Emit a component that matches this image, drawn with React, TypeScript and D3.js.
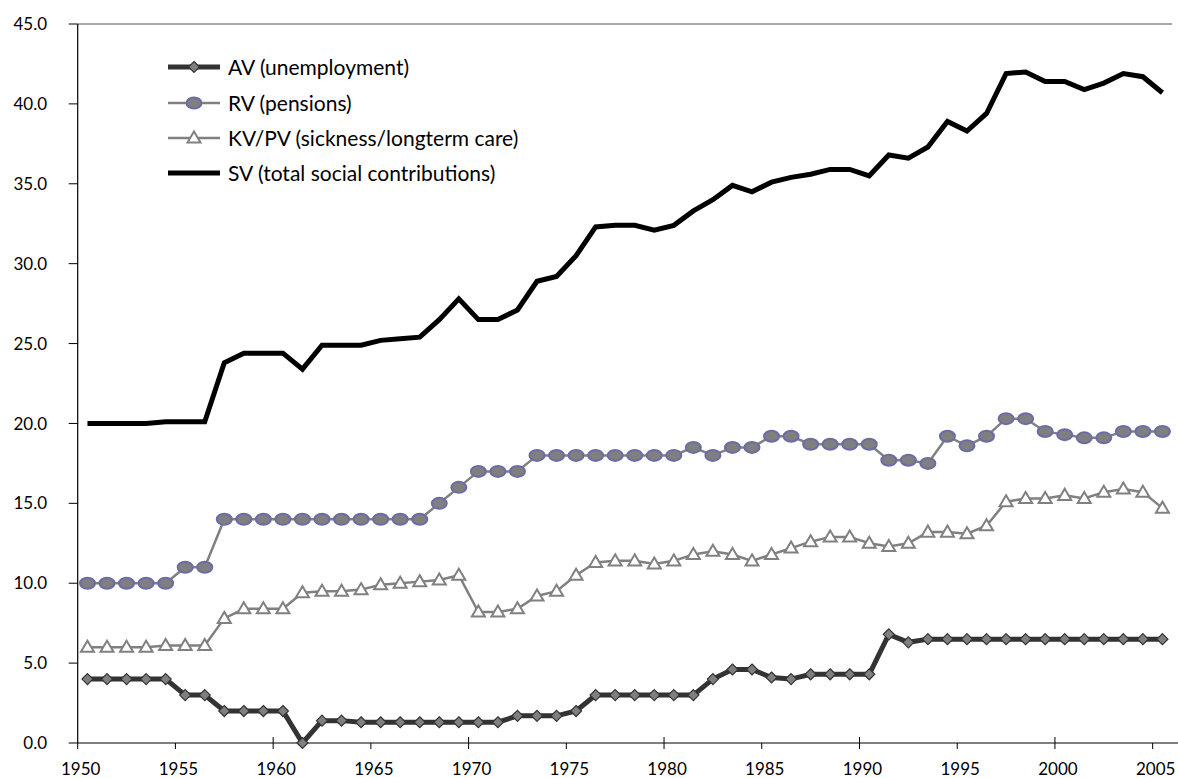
import { useEffect } from 'react';
import * as d3 from 'd3';

// categories
const years: number[] = d3.range(1950, 2006);

// contribution rates in % of gross wage
const av = [
  4.0, 4.0, 4.0, 4.0, 4.0, 3.0, 3.0, 2.0, 2.0, 2.0,
  2.0, 0.0, 1.4, 1.4, 1.3, 1.3, 1.3, 1.3, 1.3, 1.3,
  1.3, 1.3, 1.7, 1.7, 1.7, 2.0, 3.0, 3.0, 3.0, 3.0,
  3.0, 3.0, 4.0, 4.6, 4.6, 4.1, 4.0, 4.3, 4.3, 4.3,
  4.3, 6.8, 6.3, 6.5, 6.5, 6.5, 6.5, 6.5, 6.5, 6.5,
  6.5, 6.5, 6.5, 6.5, 6.5, 6.5,
];
const rv = [
  10.0, 10.0, 10.0, 10.0, 10.0, 11.0, 11.0, 14.0, 14.0, 14.0,
  14.0, 14.0, 14.0, 14.0, 14.0, 14.0, 14.0, 14.0, 15.0, 16.0,
  17.0, 17.0, 17.0, 18.0, 18.0, 18.0, 18.0, 18.0, 18.0, 18.0,
  18.0, 18.5, 18.0, 18.5, 18.5, 19.2, 19.2, 18.7, 18.7, 18.7,
  18.7, 17.7, 17.7, 17.5, 19.2, 18.6, 19.2, 20.3, 20.3, 19.5,
  19.3, 19.1, 19.1, 19.5, 19.5, 19.5,
];
const kv = [
  6.0, 6.0, 6.0, 6.0, 6.1, 6.1, 6.1, 7.8, 8.4, 8.4,
  8.4, 9.4, 9.5, 9.5, 9.6, 9.9, 10.0, 10.1, 10.2, 10.5,
  8.2, 8.2, 8.4, 9.2, 9.5, 10.5, 11.3, 11.4, 11.4, 11.2,
  11.4, 11.8, 12.0, 11.8, 11.4, 11.8, 12.2, 12.6, 12.9, 12.9,
  12.5, 12.3, 12.5, 13.2, 13.2, 13.1, 13.6, 15.1, 15.3, 15.3,
  15.5, 15.3, 15.7, 15.9, 15.7, 14.7,
];
const sv = [
  20.0, 20.0, 20.0, 20.0, 20.1, 20.1, 20.1, 23.8, 24.4, 24.4,
  24.4, 23.4, 24.9, 24.9, 24.9, 25.2, 25.3, 25.4, 26.5, 27.8,
  26.5, 26.5, 27.1, 28.9, 29.2, 30.5, 32.3, 32.4, 32.4, 32.1,
  32.4, 33.3, 34.0, 34.9, 34.5, 35.1, 35.4, 35.6, 35.9, 35.9,
  35.5, 36.8, 36.6, 37.3, 38.9, 38.3, 39.4, 41.9, 42.0, 41.4,
  41.4, 40.9, 41.3, 41.9, 41.7, 40.7,
];

const yTicks = [0, 5, 10, 15, 20, 25, 30, 35, 40, 45];
const legendLabels = [
  'AV (unemployment)',
  'RV (pensions)',
  'KV/PV (sickness/longterm care)',
  'SV (total social contributions)',
];

const W = 1178;
const H = 778;
const FONT = 'Lato, "Open Sans", sans-serif';

function Marker({ kind, cx, cy }: { kind: string; cx: number; cy: number }) {
  if (kind === 'diamond') {
    const s = 5.5;
    return (
      <path
        d={`M${cx},${cy - s}L${cx + s},${cy}L${cx},${cy + s}L${cx - s},${cy}Z`}
        fill="#7f7f7f"
        stroke="#333"
        strokeWidth={1.2}
      />
    );
  }
  if (kind === 'ellipse') {
    return <ellipse cx={cx} cy={cy} rx={7.5} ry={5.5} fill="#7f7f7f" stroke="#6b6ba8" strokeWidth={2} />;
  }
  if (kind === 'triangle') {
    const s = 6.5;
    return (
      <path
        d={`M${cx},${cy - s}L${cx + s},${cy + s * 0.7}L${cx - s},${cy + s * 0.7}Z`}
        fill="#fff"
        stroke="#808080"
        strokeWidth={2}
      />
    );
  }
  return null;
}

export default function App() {
  useEffect(() => {
    document.body.style.margin = '0';
  }, []);

  const x = d3.scaleBand<number>().domain(years).range([77.7, 1172.2]).padding(0);
  const bw = x.bandwidth();
  const px = (yr: number) => (x(yr) as number) + bw / 2;
  const y = d3.scaleLinear().domain([0, 45]).range([743, 24]);

  const line = d3
    .line<number>()
    .x((_, i) => px(years[i]))
    .y((d) => y(d));

  const series = [
    { values: av, stroke: '#333333', width: 5, marker: 'diamond' },
    { values: rv, stroke: '#808080', width: 2.5, marker: 'ellipse' },
    { values: kv, stroke: '#808080', width: 2.5, marker: 'triangle' },
    { values: sv, stroke: '#000000', width: 5, marker: 'none' },
  ];

  const x0 = 77.7;
  const xTickYears = years.filter((yr) => (yr - 1950) % 5 === 0);
  const legendY = [67, 103, 138, 173];

  return (
    <svg width={W} height={H} style={{ display: 'block', background: '#fff' }} fontFamily={FONT}>
      {/* plot frame top */}
      <line x1={x0} x2={1172} y1={y(45)} y2={y(45)} stroke="#555" strokeWidth={1} />

      {/* y axis */}
      <line x1={x0} x2={x0} y1={y(45)} y2={y(0)} stroke="#000" strokeWidth={1.2} />
      {yTicks.map((t) => (
        <g key={t}>
          <line x1={x0 - 9} x2={x0} y1={y(t)} y2={y(t)} stroke="#000" strokeWidth={1} />
          <text x={47} y={y(t)} dy="0.36em" textAnchor="end" fontSize={17} fill="#000">
            {t.toFixed(1)}
          </text>
        </g>
      ))}

      {/* x axis */}
      <line x1={x0} x2={W} y1={y(0)} y2={y(0)} stroke="#000" strokeWidth={1.2} />
      {xTickYears.map((yr) => {
        const tx = x(yr) as number;
        const major = (yr - 1950) % 10 === 0 && yr !== 1950;
        return (
          <g key={yr}>
            <line x1={tx} x2={tx} y1={y(0) - (major ? 6 : 0)} y2={y(0) + 6} stroke="#000" strokeWidth={1} />
            <text x={tx + 3} y={775} textAnchor="middle" fontSize={17} fill="#000">
              {yr}
            </text>
          </g>
        );
      })}

      {/* series lines */}
      {series.map((s, i) => (
        <path
          key={i}
          d={line(s.values) || ''}
          fill="none"
          stroke={s.stroke}
          strokeWidth={s.width}
          strokeLinejoin="miter"
        />
      ))}
      {series.map((s, i) =>
        s.marker === 'none'
          ? null
          : s.values.map((v, j) => <Marker key={`${i}-${j}`} kind={s.marker} cx={px(years[j])} cy={y(v)} />)
      )}

      {/* legend */}
      {series.map((s, i) => (
        <g key={`lg${i}`}>
          <line x1={168} x2={220} y1={legendY[i]} y2={legendY[i]} stroke={s.stroke} strokeWidth={s.width} />
          {s.marker !== 'none' && <Marker kind={s.marker} cx={194} cy={legendY[i]} />}
          <text x={228} y={legendY[i]} dy="0.36em" fontSize={21} fill="#000">
            {legendLabels[i]}
          </text>
        </g>
      ))}
    </svg>
  );
}
